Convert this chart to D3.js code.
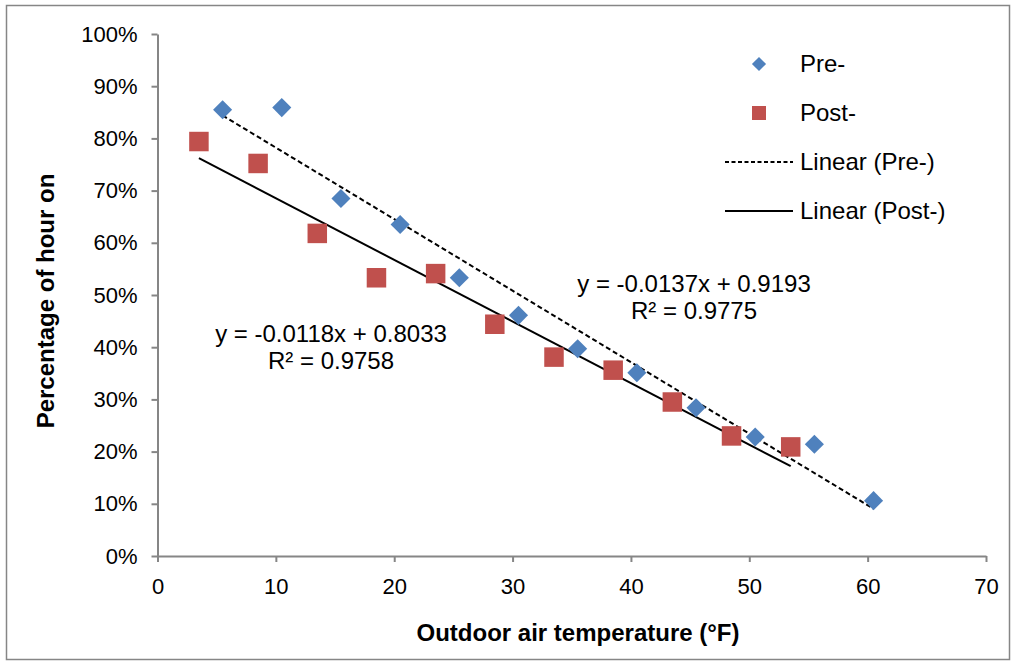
<!DOCTYPE html>
<html>
<head>
<meta charset="utf-8">
<script src="https://cdn.jsdelivr.net/npm/d3@7/dist/d3.min.js"></script>
<style>
  html, body { margin: 0; padding: 0; background: #fff; }
  svg text { font-family: "Liberation Sans", Arial, sans-serif; fill: #000; }
</style>
</head>
<body>
<svg id="chart" width="1016" height="665"></svg>
<script>
// === DATA ===
const preTemp = [5.5, 10.5, 15.5, 20.5, 25.5, 30.5, 35.5, 40.5, 45.5, 50.5, 55.5, 60.5];
const preShare = [0.855, 0.859, 0.685, 0.635, 0.533, 0.461, 0.397, 0.351, 0.284, 0.228, 0.214, 0.106];
const postTemp = [3.5, 8.5, 13.5, 18.5, 23.5, 28.5, 33.5, 38.5, 43.5, 48.5, 53.5];
const postShare = [0.794, 0.752, 0.618, 0.533, 0.541, 0.444, 0.381, 0.356, 0.295, 0.230, 0.209];

// trendline coefficients as printed on the chart
const preFit = { slope: -0.0137, intercept: 0.9193, r2: "0.9775" };
const postFit = { slope: -0.0118, intercept: 0.8033, r2: "0.9758" };

const xTicks = [0, 10, 20, 30, 40, 50, 60, 70];
const yTicks = [0, 0.1, 0.2, 0.3, 0.4, 0.5, 0.6, 0.7, 0.8, 0.9, 1.0];

// === LAYOUT ===
const plot = { left: 157.5, right: 986, top: 34, bottom: 556 };
const blue = "#4F81BD";
const red = "#C0504D";
const axisGray = "#868686";

const svg = d3.select("#chart");

// outer frame
svg.append("rect")
  .attr("x", 6.5).attr("y", 5.5)
  .attr("width", 1003).attr("height", 654)
  .attr("fill", "#fff")
  .attr("stroke", axisGray)
  .attr("stroke-width", 1.5);

const x = d3.scaleLinear().domain([0, 70]).range([plot.left, plot.right]);
const y = d3.scaleLinear().domain([0, 1]).range([plot.bottom, plot.top]);

// === AXES ===
const xAxis = svg.append("g")
  .attr("transform", `translate(0,${plot.bottom})`)
  .call(d3.axisBottom(x).tickValues(xTicks).tickSize(6).tickPadding(12).tickSizeOuter(0));

const yAxis = svg.append("g")
  .attr("transform", `translate(${plot.left},0)`)
  .call(d3.axisLeft(y).tickValues(yTicks).tickSize(6).tickPadding(14)
    .tickFormat(d => Math.round(d * 100) + "%").tickSizeOuter(0));

[xAxis, yAxis].forEach(a => {
  a.select(".domain").attr("stroke", axisGray).attr("stroke-width", 2);
  a.selectAll(".tick line").attr("stroke", axisGray).attr("stroke-width", 2);
  a.selectAll(".tick text")
    .style("font-size", "22px")
    .attr("fill", "#000");
});
xAxis.selectAll(".tick text").attr("dy", "0.9em");

// axis titles
svg.append("text")
  .attr("x", 578)
  .attr("y", 641)
  .attr("text-anchor", "middle")
  .style("font-size", "24px")
  .style("font-weight", "bold")
  .text("Outdoor air temperature (°F)");

svg.append("text")
  .attr("transform", `translate(54,301) rotate(-90)`)
  .attr("text-anchor", "middle")
  .style("font-size", "24px")
  .style("font-weight", "bold")
  .text("Percentage of hour on");

// === TRENDLINES ===
function fitLine(fit, temps) {
  const x0 = d3.min(temps), x1 = d3.max(temps);
  return [[x0, fit.slope * x0 + fit.intercept], [x1, fit.slope * x1 + fit.intercept]];
}
const line = d3.line().x(d => x(d[0])).y(d => y(d[1]));

svg.append("path")
  .attr("d", line(fitLine(preFit, preTemp)))
  .attr("fill", "none")
  .attr("stroke", "#000")
  .attr("stroke-width", 2)
  .attr("stroke-dasharray", "5,3");

svg.append("path")
  .attr("d", line(fitLine(postFit, postTemp)))
  .attr("fill", "none")
  .attr("stroke", "#000")
  .attr("stroke-width", 2);

// === POINTS ===
const diamond = d3.symbol().type(d3.symbolSquare).size(13.5 * 13.5);
const square = d3.symbol().type(d3.symbolSquare).size(19.5 * 19.5);

svg.append("g").selectAll("path")
  .data(postTemp.map((t, i) => [t, postShare[i]]))
  .join("path")
  .attr("d", square)
  .attr("transform", d => `translate(${x(d[0])},${y(d[1])})`)
  .attr("fill", red);

svg.append("g").selectAll("path")
  .data(preTemp.map((t, i) => [t, preShare[i]]))
  .join("path")
  .attr("d", diamond)
  .attr("transform", d => `translate(${x(d[0])},${y(d[1])}) rotate(45)`)
  .attr("fill", blue);

// === EQUATION LABELS ===
function eqLabel(fit, cx, by) {
  const sign = fit.intercept >= 0 ? "+" : "-";
  const g = svg.append("g").attr("text-anchor", "middle").style("font-size", "24px");
  g.append("text").attr("x", cx).attr("y", by)
    .text(`y = ${fit.slope.toFixed(4)}x ${sign} ${Math.abs(fit.intercept).toFixed(4)}`);
  g.append("text").attr("x", cx).attr("y", by + 27)
    .text(`R² = ${fit.r2}`);
}
eqLabel(preFit, 694, 292);
eqLabel(postFit, 331, 342);

// === LEGEND ===
const legend = svg.append("g").style("font-size", "24px");
const legendItems = [
  { label: "Pre-", kind: "diamond" },
  { label: "Post-", kind: "square" },
  { label: "Linear (Pre-)", kind: "dash" },
  { label: "Linear (Post-)", kind: "solid" }
];
legendItems.forEach((item, i) => {
  const cy = 64 + i * 49;
  if (item.kind === "diamond") {
    legend.append("path")
      .attr("d", d3.symbol().type(d3.symbolSquare).size(10 * 10))
      .attr("transform", `translate(759,${cy}) rotate(45)`)
      .attr("fill", blue);
  } else if (item.kind === "square") {
    legend.append("path")
      .attr("d", d3.symbol().type(d3.symbolSquare).size(14 * 14))
      .attr("transform", `translate(759,${cy})`)
      .attr("fill", red);
  } else {
    legend.append("line")
      .attr("x1", 725).attr("x2", 793)
      .attr("y1", cy).attr("y2", cy)
      .attr("stroke", "#000")
      .attr("stroke-width", 2)
      .attr("stroke-dasharray", item.kind === "dash" ? "4,2.5" : null);
  }
  legend.append("text")
    .attr("x", 800)
    .attr("y", cy + 8)
    .text(item.label);
});
</script>
</body>
</html>
